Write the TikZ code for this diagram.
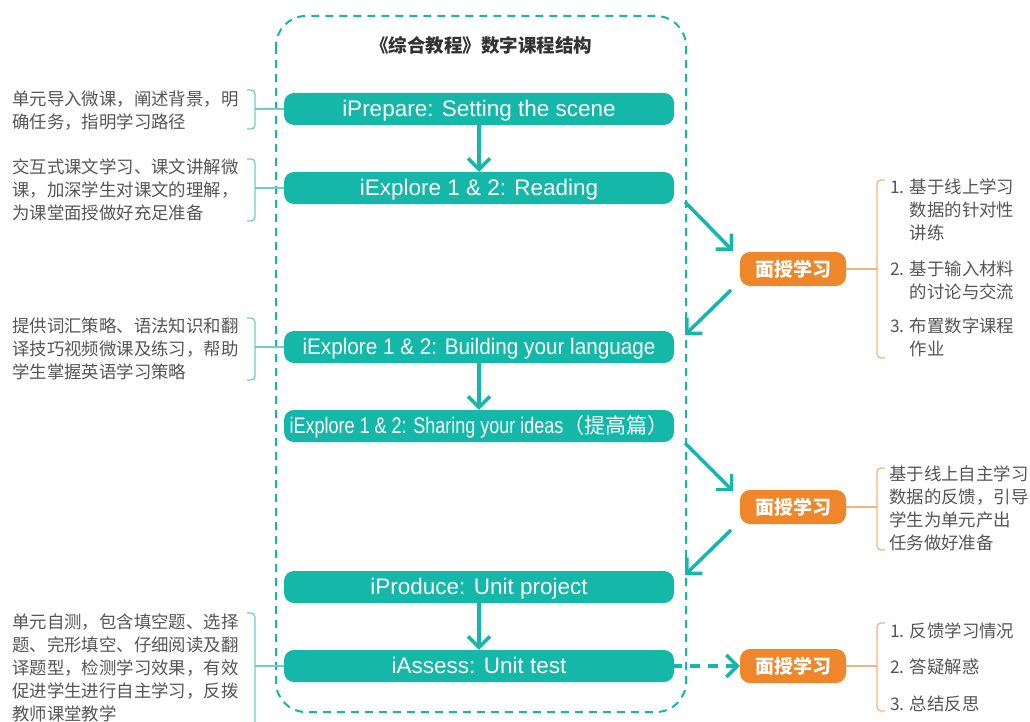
\documentclass[tikz,border=0pt]{standalone}
\usepackage{fontspec}
\setmainfont{Liberation Sans}
\newfontfamily\cjk{Noto Sans CJK SC}
\newfontfamily\narrowfont[FakeStretch=0.92]{Liberation Sans}
\newfontfamily\condfont[FakeStretch=0.8]{Liberation Sans}
\usetikzlibrary{arrows.meta}
\definecolor{tealc}{HTML}{14B7A8}
\definecolor{tealbr}{HTML}{74CCC4}
\definecolor{orangec}{HTML}{F0862A}
\definecolor{orangebr}{HTML}{F4B27C}
\definecolor{grayc}{HTML}{555555}
\definecolor{titlec}{HTML}{333333}
\tikzset{>={Straight Barb[length=11pt,width=22pt]}}
\tikzset{tb/.style={fill=tealc, rounded corners=10, minimum width=390, minimum height=32, inner sep=0, text height=18, text depth=3, text=white, font=\fontsize{22.5}{22.5}\selectfont}}
\tikzset{ob/.style={fill=orangec, rounded corners=10, minimum width=106, minimum height=34, inner sep=0, text=white, font=\cjk\bfseries\fontsize{19}{19}\selectfont}}
\tikzset{g/.style={text=grayc, font=\cjk\fontsize{17.4}{23}\selectfont, align=left, inner sep=0, anchor=west}}
\tikzset{ar/.style={draw=tealc, line width=3.5}}
\tikzset{lb/.style={draw=tealbr, line width=1.3, rounded corners=4}}
\tikzset{rb/.style={draw=orangebr, line width=1.3, rounded corners=4}}

\begin{document}
\begin{tikzpicture}[x=1pt, y=-1pt]
  \useasboundingbox (0,0) rectangle (1030,722);
  \draw[tealc, line width=2, dash pattern=on 8pt off 6pt, rounded corners=30] (276,16) rectangle (686,712);
  \node[text=titlec, font=\cjk\bfseries\fontsize{18.5}{18.5}\selectfont] (title) at (481,45) {《综合教程》数字课程结构};

  \node[tb] (prep) at (479,109) {iPrepare: Setting the scene};
  \node[tb] (read) at (479,188) {iExplore 1 \& 2: Reading}
    edge [<-, ar] (prep);
  \node[tb] (build) at (479,347) {\narrowfont iExplore 1 \& 2: Building your language};
  \node[tb] (share) at (479,426) {\condfont iExplore 1 \& 2: Sharing your ideas{\cjk\fontsize{21}{21}\selectfont（提高篇）}}
    edge [<-, ar] (build);
  \node[tb] (prod) at (479,587) {iProduce: Unit project};
  \node[tb] (test) at (479,666) {iAssess: Unit test}
    edge [<-, ar] (prod);

  \node[ob] (face1) at (793,269) {面授学习};
  \node[ob] (face2) at (793,507) {面授学习};
  \node[ob] (face3) at (793,666) {面授学习}
    edge [<-, ar, dash pattern=on 10pt off 8pt] (test);

  \coordinate (d1) at (685,202);
  \coordinate (d2) at (733,251);
  \coordinate (d3) at (731,290);
  \coordinate (d4) at (685,335);
  \coordinate (d5) at (685,443);
  \coordinate (d6) at (733,491);
  \coordinate (d7) at (731,530);
  \coordinate (d8) at (685,575);
  \draw[->, ar] (d1) -- (d2);
  \draw[->, ar] (d3) -- (d4);
  \draw[->, ar] (d5) -- (d6);
  \draw[->, ar] (d7) -- (d8);

  \node[g] (note1) at (12,111) {单元导入微课，阐述背景，明\\确任务，指明学习路径};
  \draw[lb] (247,90) -- (255,90) -- (255,129) -- (247,129);
  \coordinate (c1) at (255,109);
  \draw[lb] (c1) -- (prep);
  \node[g] (note2) at (12,190) {交互式课文学习、课文讲解微\\课，加深学生对课文的理解，\\为课堂面授做好充足准备};
  \draw[lb] (247,159) -- (255,159) -- (255,221) -- (247,221);
  \coordinate (c2) at (255,188);
  \draw[lb] (c2) -- (read);
  \node[g] (note3) at (12,349) {提供词汇策略、语法知识和翻\\译技巧视频微课及练习，帮助\\学生掌握英语学习策略};
  \draw[lb] (247,318) -- (255,318) -- (255,380) -- (247,380);
  \coordinate (c3) at (255,347);
  \draw[lb] (c3) -- (build);
  \node[g] (note4) at (12,668) {单元自测，包含填空题、选择\\题、完形填空、仔细阅读及翻\\译题型，检测学习效果，有效\\促进学生进行自主学习，反拨\\教师课堂教学};
  \draw[lb] (247,613) -- (255,613) -- (255,730);
  \coordinate (c4) at (255,666);
  \draw[lb] (c4) -- (test);

  \node[g] (plan1) at (890,268) {1. 基于线上学习\\\hphantom{1. }数据的针对性\\\hphantom{1. }讲练\\[13pt]2. 基于输入材料\\\hphantom{2. }的讨论与交流\\[11pt]3. 布置数字课程\\\hphantom{3. }作业};
  \draw[rb] (885,180) -- (877,180) -- (877,358) -- (885,358);
  \coordinate (e1) at (877,269);
  \draw[rb] (face1) -- (e1);
  \node[g] (plan2) at (889,508) {基于线上自主学习\\数据的反馈，引导\\学生为单元产出\\任务做好准备};
  \draw[rb] (885,468) -- (877,468) -- (877,550) -- (885,550);
  \coordinate (e2) at (877,507);
  \draw[rb] (face2) -- (e2);
  \node[g, font=\cjk\fontsize{17.4}{36.5}\selectfont] (plan3) at (890,667) {1. 反馈学习情况\\2. 答疑解惑\\3. 总结反思};
  \draw[rb] (885,623) -- (877,623) -- (877,711) -- (885,711);
  \coordinate (e3) at (877,666);
  \draw[rb] (face3) -- (e3);
\end{tikzpicture}
\end{document}
